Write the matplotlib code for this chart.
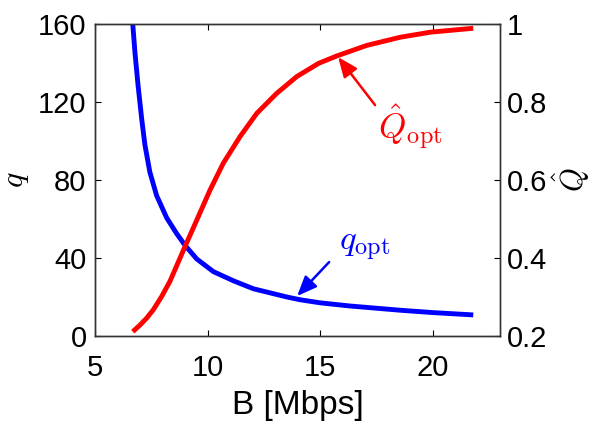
import matplotlib
matplotlib.use("Agg")
import matplotlib.pyplot as plt

plt.rcParams['font.family'] = ['Liberation Sans', 'DejaVu Sans']
plt.rcParams['mathtext.fontset'] = 'cm'

# q_opt (eje izquierdo)
B_q = [6.68, 6.78, 6.92, 7.08, 7.22, 7.44, 7.74, 8.19, 8.63, 9.0, 9.52, 10.26,
       11.15, 12.04, 13.52, 14.1, 15.0, 16.3, 18.56, 20.0, 21.8]
q_opt = [160, 145, 128, 111, 98, 84, 72, 60.5, 52.5, 46.5, 39.5, 33.0,
         28.3, 24.2, 20.0, 18.6, 17.0, 15.4, 13.2, 12.0, 10.8]

# Q_opt (eje derecho)
B_Q = [6.68, 7.0, 7.3, 7.59, 7.95, 8.33, 8.93, 9.59, 10.11, 10.70, 11.44, 12.19, 13.07,
       13.96, 14.93, 15.74, 17.07, 18.56, 19.9, 21.8]
Q_opt = [0.211, 0.228, 0.246, 0.267, 0.300, 0.340, 0.420, 0.506, 0.574, 0.643, 0.711,
         0.771, 0.822, 0.865, 0.899, 0.918, 0.945, 0.966, 0.979, 0.989]

fig = plt.figure(figsize=(5.97, 4.28), dpi=100)
ax = fig.add_axes([0.159, 0.215, 0.679, 0.729])
ax2 = ax.twinx()

ax.plot(B_q, q_opt, color='#0000ff', lw=3.5, solid_capstyle='butt', solid_joinstyle='round')
ax2.plot(B_Q, Q_opt, color='#ff0000', lw=3.5, solid_capstyle='butt', solid_joinstyle='round')

ax.set_xlim(5, 23)
ax.set_ylim(0, 160)
ax2.set_ylim(0.2, 1)
ax.set_xticks([5, 10, 15, 20])
ax.set_yticks([0, 40, 80, 120, 160])
ax2.set_yticks([0.2, 0.4, 0.6, 0.8, 1.0])
ax2.set_yticklabels(['0.2', '0.4', '0.6', '0.8', '1'])

ax.tick_params(axis='x', direction='in', top=True, length=4, labelsize=21, pad=13)
ax.tick_params(axis='y', direction='in', length=4, labelsize=21, pad=6)
ax2.tick_params(axis='y', direction='in', length=4, labelsize=21, pad=5)
for a in (ax, ax2):
    for s in a.spines.values():
        s.set_color('#333333')
        s.set_linewidth(1.0)

ax.set_xlabel('B [Mbps]', fontsize=24, labelpad=6)
ax.set_ylabel('$q$', fontsize=23, labelpad=5)
ax2.set_ylabel(r'$\hat{Q}$', fontsize=22, labelpad=2)

# etiquetas con flecha
ax2.text(19.0, 0.736, r'$\hat{Q}_{\mathrm{opt}}$', color='#ff0000', fontsize=25,
         ha='center', va='center')
ax2.annotate('', xy=(15.8, 0.915), xytext=(17.44, 0.792),
             arrowprops=dict(arrowstyle='-|>,head_length=0.6,head_width=0.25',
                             color='#ff0000', lw=1.8, mutation_scale=20,
                             shrinkA=0, shrinkB=0))
ax.text(16.96, 46, r'$q_{\mathrm{opt}}$', color='#0000ff', fontsize=25,
        ha='center', va='center')
ax.annotate('', xy=(13.98, 20.5), xytext=(15.4, 37.9),
            arrowprops=dict(arrowstyle='-|>,head_length=0.6,head_width=0.25',
                            color='#0000ff', lw=1.8, mutation_scale=20,
                            shrinkA=0, shrinkB=0))

plt.savefig('out.png', dpi=100)
